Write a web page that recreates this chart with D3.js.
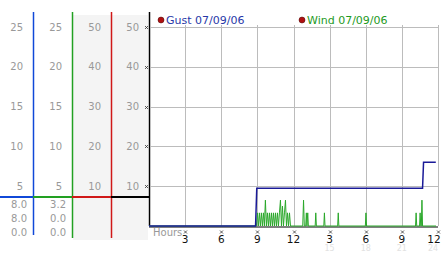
<!DOCTYPE html>
<html>
<head>
<meta charset="utf-8">
<script src="https://cdn.jsdelivr.net/npm/d3@7"></script>
<style>
  body { margin: 0; background: #fff; }
  text { font-family: "DejaVu Sans", Verdana, sans-serif; }
</style>
</head>
<body>
<div class="canvas"></div>
<script>
// ---- data ----
const hourTicks = [3, 6, 9, 12, 15, 18, 21, 24];
const hourLabels = ['3', '6', '9', '12', '3', '6', '9', '12'];
const faintTicks = [15, 18, 21, 24];
const legendNames = ['Gust 07/09/06', 'Wind 07/09/06'];

const gustTimes = ['0:00', '8:51', '8:57', '22:43', '22:48', '23:49'];
const gustSpeeds = [0, 0, 9.5, 9.5, 16, 16];

const windTimes = ['0:00', '8:55', '9:00', '9:05', '9:10', '9:15', '9:20', '9:25', '9:30', '9:35',
  '9:40', '9:45', '9:50', '9:55', '10:00', '10:05', '10:10', '10:15', '10:20', '10:25',
  '10:30', '10:35', '10:40', '10:45', '10:50', '10:55', '11:00', '11:05', '11:10', '11:15',
  '11:20', '11:25', '11:30', '11:35', '11:40', '11:45',
  '12:46', '12:50', '12:54', '13:01', '13:04', '13:07', '13:11', '13:14',
  '13:48', '13:51', '13:54', '14:31', '14:34', '14:37', '15:40', '15:43', '15:46',
  '17:58', '18:01', '18:04', '22:08', '22:11', '22:14', '22:28', '22:31', '22:34',
  '22:37', '22:40', '22:43', '23:50'];
const windSpeeds = [0, 0, 3.3, 0, 3.3, 0, 3.3, 0, 3.3, 0,
  6.5, 0, 3.3, 0, 3.3, 0, 3.3, 0, 3.3, 0,
  3.3, 0, 3.3, 0, 3.3, 6.5, 0, 5.0, 0, 3.3,
  6.5, 0, 3.3, 0, 3.3, 0,
  0, 6.5, 0, 0, 3.3, 0, 3.3, 0,
  0, 3.3, 0, 0, 3.3, 0, 0, 3.3, 0,
  0, 3.3, 0, 0, 3.3, 0, 0, 3.3, 0,
  0, 6.5, 0, 0];

// side scales: gust, wind, and two 0-50 scales
const scaleMax = [25, 25, 50, 50];
const scaleTicks = [[25, 20, 15, 10, 5], [25, 20, 15, 10, 5], [50, 40, 30, 20, 10], [50, 40, 30, 20, 10]];
const readouts = [['8.0', '8.0', '0.0'], ['3.2', '0.0', '0.0'], [], []];

// ---- layout ----
const W = 442, H = 253;
const plot = { left: 149, right: 438, top: 27, bottom: 226 };
const colLines = [33, 72, 111, 149];
const colColours = ['#1048d8', '#22a022', '#d01818', '#000'];

const toHour = s => { const [h, m] = s.split(':').map(Number); return h + m / 60; };

const svg = d3.select('.canvas').append('svg')
  .attr('width', W).attr('height', H);

const x = d3.scaleLinear().domain([0, 24]).range([plot.left, plot.right]);
const y = d3.scaleLinear().domain([0, 50]).range([plot.bottom, plot.top]);

// grey background behind the right two scales
svg.append('rect')
  .attr('x', 73).attr('y', 15).attr('width', 75).attr('height', 225)
  .attr('fill', '#f4f4f4');

// side scale columns
scaleMax.forEach((mx, i) => {
  const s = d3.scaleLinear().domain([0, mx]).range([plot.bottom, plot.top]);
  const g = svg.append('g');
  g.selectAll('text.tick').data(scaleTicks[i]).enter().append('text')
    .attr('class', 'tick')
    .attr('x', colLines[i] - 10)
    .attr('y', d => s(d) + 3.5)
    .attr('text-anchor', 'end')
    .attr('font-size', 10)
    .attr('fill', '#999')
    .text(d => d);
  g.selectAll('text.read').data(readouts[i]).enter().append('text')
    .attr('class', 'read')
    .attr('x', colLines[i] - 6)
    .attr('y', (d, j) => 207.5 + j * 14)
    .attr('text-anchor', 'end')
    .attr('font-size', 10)
    .attr('fill', '#999')
    .text(d => d);
  const x0 = i === 0 ? 0 : colLines[i - 1];
  g.append('line')
    .attr('x1', x0).attr('x2', colLines[i])
    .attr('y1', 197).attr('y2', 197)
    .attr('stroke', colColours[i]).attr('stroke-width', 2);
  g.append('line')
    .attr('x1', colLines[i] + 0.5).attr('x2', colLines[i] + 0.5)
    .attr('y1', 12).attr('y2', i === 3 ? plot.bottom : (i === 0 ? 235 : 238))
    .attr('stroke', colColours[i]).attr('stroke-width', 1.5);
});

// grid
const grid = svg.append('g').attr('stroke', '#bcbcbc').attr('stroke-width', 1);
grid.selectAll('line.h').data(scaleTicks[3]).enter().append('line')
  .attr('class', 'h')
  .attr('x1', plot.left + 1).attr('x2', plot.right + 1)
  .attr('y1', d => Math.round(y(d)) + 0.5).attr('y2', d => Math.round(y(d)) + 0.5);
grid.selectAll('line.v').data(hourTicks).enter().append('line')
  .attr('class', 'v')
  .attr('x1', d => Math.round(x(d)) + 0.5).attr('x2', d => Math.round(x(d)) + 0.5)
  .attr('y1', 25).attr('y2', plot.bottom);

// small tick glyphs
const glyph = 'M-1.5,-1.5L1.5,1.5M1.5,-1.5L-1.5,1.5';
svg.append('g').selectAll('path').data(scaleTicks[3]).enter().append('path')
  .attr('d', glyph)
  .attr('transform', d => `translate(146.5,${Math.round(y(d)) + 0.5})`)
  .attr('stroke', '#333').attr('stroke-width', 0.8).attr('fill', 'none');
svg.append('g').selectAll('path').data(hourTicks).enter().append('path')
  .attr('d', glyph)
  .attr('transform', d => `translate(${Math.round(x(d)) + 0.5},232)`)
  .attr('stroke', '#333').attr('stroke-width', 0.8).attr('fill', 'none');

// faint 24h labels sit just below the main ones
svg.append('g').selectAll('text').data(faintTicks).enter().append('text')
  .attr('x', d => Math.min(x(d), 433))
  .attr('y', 251)
  .attr('text-anchor', 'middle')
  .attr('font-size', 8)
  .attr('fill', '#e2e2e2')
  .text(d => d);
svg.append('g').selectAll('text').data(hourTicks).enter().append('text')
  .attr('x', d => Math.min(x(d), 434))
  .attr('y', 243)
  .attr('text-anchor', 'middle')
  .attr('font-size', 10.5)
  .attr('fill', '#111')
  .text((d, i) => hourLabels[i]);
svg.append('text')
  .attr('x', 153).attr('y', 236)
  .attr('font-size', 10).attr('fill', '#999')
  .text('Hours');

// baseline
svg.append('line')
  .attr('x1', plot.left).attr('x2', plot.right)
  .attr('y1', plot.bottom + 1).attr('y2', plot.bottom + 1)
  .attr('stroke', '#000').attr('stroke-width', 1);

// series
const line = d3.line().x(d => x(d[0])).y(d => y(d[1]));
const windData = windTimes.map((t, i) => [toHour(t), windSpeeds[i]]);
const gustData = gustTimes.map((t, i) => [toHour(t), gustSpeeds[i]]);

svg.append('path')
  .datum(windData)
  .attr('d', line)
  .attr('fill', 'none')
  .attr('stroke', '#2aa82a')
  .attr('stroke-width', 1);
svg.append('path')
  .datum(gustData)
  .attr('d', line)
  .attr('fill', 'none')
  .attr('stroke', '#1a1a98')
  .attr('stroke-width', 1.5);

// legend
const legX = [161, 302];
const legColours = ['#2838a8', '#1e9a1e'];
legendNames.forEach((name, i) => {
  svg.append('circle')
    .attr('cx', legX[i]).attr('cy', 20).attr('r', 3)
    .attr('fill', '#b01010').attr('stroke', '#400').attr('stroke-width', 0.5);
  svg.append('text')
    .attr('x', legX[i] + 5).attr('y', 24)
    .attr('font-size', 11)
    .attr('fill', legColours[i])
    .text(name);
});
</script>
</body>
</html>
